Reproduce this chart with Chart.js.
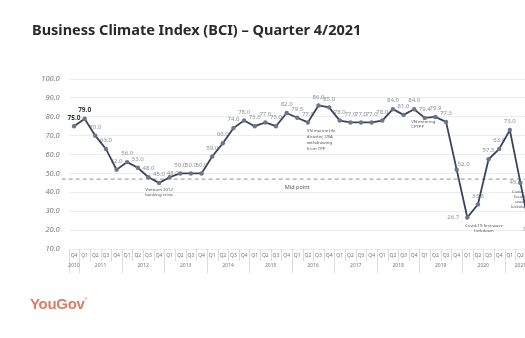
<!DOCTYPE html>
<html>
<head>
<meta charset="utf-8">
<script src="https://cdn.jsdelivr.net/npm/chart.js@4.4.1/dist/chart.umd.min.js"></script>
<style>
html, body { margin: 0; padding: 0; background: #fff; overflow: hidden; width: 525px; height: 338px; }
#wrap { position: absolute; left: 0; top: 0; width: 545px; height: 338px; }
#title { position: absolute; left: 32px; top: 19px; font: bold 14.5px "Noto Sans"; color: #2a2a2a; white-space: nowrap; }
#logo { position: absolute; left: 30px; top: 295px; font: bold 15px "Liberation Sans"; color: #e07b68; letter-spacing: -0.3px; }
#logo sup { font-size: 4px; vertical-align: 9px; }
</style>
</head>
<body>
<div id="wrap"><canvas id="bciChart" width="545" height="338"></canvas></div>
<div id="title">Business Climate Index (BCI) – Quarter 4/2021</div>
<div id="logo">YouGov<sup>®</sup></div>
<script>
// quarters in order; a new year starts at every Q1
const quarterLabels = [
    'Q4',
    'Q1', 'Q2', 'Q3', 'Q4',
    'Q1', 'Q2', 'Q3', 'Q4',
    'Q1', 'Q2', 'Q3', 'Q4',
    'Q1', 'Q2', 'Q3', 'Q4',
    'Q1', 'Q2', 'Q3', 'Q4',
    'Q1', 'Q2', 'Q3', 'Q4',
    'Q1', 'Q2', 'Q3', 'Q4',
    'Q1', 'Q2', 'Q3', 'Q4',
    'Q1', 'Q2', 'Q3', 'Q4',
    'Q1', 'Q2', 'Q3', 'Q4',
    'Q1', 'Q2', 'Q3'
];
const yearLabels = ['2010', '2011', '2012', '2013', '2014', '2015', '2016', '2017', '2018', '2019', '2020', '2021'];
const bciValues = [
    75.0,
    79.0, 70.0, 63.0, 52.0,
    56.0, 53.0, 48.0, 45.0,
    48.0, 50.0, 50.0, 50.0,
    59.0, 66.0, 74.0, 78.0,
    75.0, 77.0, 75.0, 82.0,
    79.5, 77.0, 86.0, 85.0,
    78.0, 77.0, 77.0, 77.0,
    78.0, 84.0, 81.0, 84.0,
    79.4, 79.9, 77.3, 52.0,
    26.7, 33.6, 57.5, 63.0,
    73.0, 45.0, 17.0
];
const yMin = 10;
const yMax = 100;
const yStep = 10;
const midPointValue = 47;
const midPointText = 'Mid point';
const noteTexts = [
    ['Vietnam 2012', 'banking crisis'],
    ['VN marine life', 'disaster, USA', 'withdrawing', 'from TPP'],
    ['VN entering', 'CPTPP'],
    ['Covid-19 first wave', 'lockdown'],
    ['Covid-19', 'fourth', 'wave', 'lockdown']
];
const noteAnchors = [8, 22, 32, 38, 42];

// placement of texts (relative to the anchor point)
const notePlacement = [
    { dx: 0, dy: 6.5, lh: 5.5, align: 'center' },
    { dx: -1, dy: 8, lh: 6, align: 'left' },
    { dx: -3, dy: 12.5, lh: 5, align: 'left' },
    { dx: 6, dy: 21, lh: 5.5, align: 'center' },
    { dx: 0, dy: 9, lh: 5, align: 'center' }
];
const labelOffsets = {
    9: [3, -4],
    36: [7, -5],
    37: [-14, 0],
    42: [-5, -1],
    43: [-3, -6]
};

const yearOf = [];
let yi = -1;
quarterLabels.forEach(function (q, i) {
    if (i === 0 || q === 'Q1') yi++;
    yearOf.push(yi);
});

const labelsPlugin = {
    id: 'pointLabels',
    beforeDatasetsDraw(chart) {
        const ctx = chart.ctx;
        const meta = chart.getDatasetMeta(0);
        const y = chart.scales.y;
        const area = chart.chartArea;
        ctx.save();
        // mid point line
        const my = y.getPixelForValue(midPointValue);
        ctx.strokeStyle = '#a8a8a8';
        ctx.lineWidth = 1.2;
        ctx.setLineDash([4, 3]);
        ctx.beginPath();
        ctx.moveTo(area.left - 7, my);
        ctx.lineTo(chart.width, my);
        ctx.stroke();
        ctx.setLineDash([]);
        ctx.fillStyle = '#555';
        ctx.font = '5.5px "Noto Sans"';
        ctx.textAlign = 'center';
        ctx.textBaseline = 'middle';
        ctx.fillText(midPointText, chart.scales.x.getPixelForValue(21), my + 8);

        // value labels
        ctx.textBaseline = 'middle';
        meta.data.forEach(function (pt, i) {
            const off = labelOffsets[i] || [0, -8.5];
            if (i < 2) {
                ctx.font = 'bold 6.5px "Noto Sans"';
                ctx.fillStyle = '#333';
            } else {
                ctx.font = '6px "Noto Sans"';
                ctx.fillStyle = '#8b8f98';
            }
            ctx.fillText(bciValues[i].toFixed(1), pt.x + off[0], pt.y + off[1]);
        });

        // notes
        ctx.font = '4.3px "Noto Sans"';
        ctx.fillStyle = '#555';
        noteTexts.forEach(function (lines, n) {
            const pt = meta.data[noteAnchors[n]];
            const p = notePlacement[n];
            ctx.textAlign = p.align;
            lines.forEach(function (t, k) {
                ctx.fillText(t, pt.x + p.dx, pt.y + p.dy + k * p.lh);
            });
        });
        ctx.restore();
    },
    afterDraw(chart) {
        const ctx = chart.ctx;
        const x = chart.scales.x;
        const base = chart.chartArea.bottom;
        ctx.save();
        ctx.strokeStyle = '#dcdcdc';
        ctx.lineWidth = 1;
        const half = (x.getPixelForValue(1) - x.getPixelForValue(0)) / 2;
        quarterLabels.forEach(function (q, i) {
            const sx = Math.round(x.getPixelForValue(i) - half) + 0.5;
            const newYear = i === 0 || q === 'Q1';
            ctx.beginPath();
            ctx.moveTo(sx, base);
            ctx.lineTo(sx, newYear ? base + 24 : base + 12);
            ctx.stroke();
        });
        // year labels
        ctx.fillStyle = '#777';
        ctx.font = '5px "Noto Sans"';
        ctx.textAlign = 'center';
        ctx.textBaseline = 'middle';
        yearLabels.forEach(function (yr, k) {
            const idx = [];
            yearOf.forEach(function (v, i) { if (v === k) idx.push(i); });
            const cx = (x.getPixelForValue(idx[0]) + x.getPixelForValue(idx[idx.length - 1])) / 2;
            ctx.fillText(yr, cx, base + 17);
        });
        ctx.restore();
    }
};

const data = {
    labels: quarterLabels,
    datasets: [{
        label: 'BCI',
        data: bciValues,
        borderColor: '#364362',
        borderWidth: 1.8,
        backgroundColor: '#6e7587',
        pointBackgroundColor: '#6e7587',
        pointBorderWidth: 0,
        pointRadius: 2.2,
        tension: 0
    }]
};

const config = {
    type: 'line',
    data: data,
    options: {
        responsive: false,
        animation: false,
        devicePixelRatio: 1,
        layout: { padding: { top: 79, right: 8.6, bottom: 0, left: 0 } },
        plugins: {
            legend: { display: false },
            tooltip: { enabled: false }
        },
        scales: {
            x: {
                offset: true,
                grid: { display: false, drawTicks: false },
                border: { display: false },
                ticks: {
                    autoSkip: false,
                    maxRotation: 0,
                    padding: 3.5,
                    color: '#777',
                    font: { family: 'Noto Sans', size: 5 }
                },
                afterFit: function (s) { s.height = 89; }
            },
            y: {
                min: yMin,
                max: yMax,
                grid: { color: '#ececec', drawTicks: false },
                border: { display: false },
                ticks: {
                    stepSize: yStep,
                    padding: 9,
                    color: '#7a7a7a',
                    font: { family: 'Noto Sans', size: 7.5, style: 'italic' },
                    callback: function (v) { return v.toFixed(1); }
                },
                afterFit: function (s) { s.width = 68.7; }
            }
        }
    },
    plugins: [labelsPlugin]
};

const bciChart = new Chart(document.getElementById('bciChart'), config);
</script>
</body>
</html>
